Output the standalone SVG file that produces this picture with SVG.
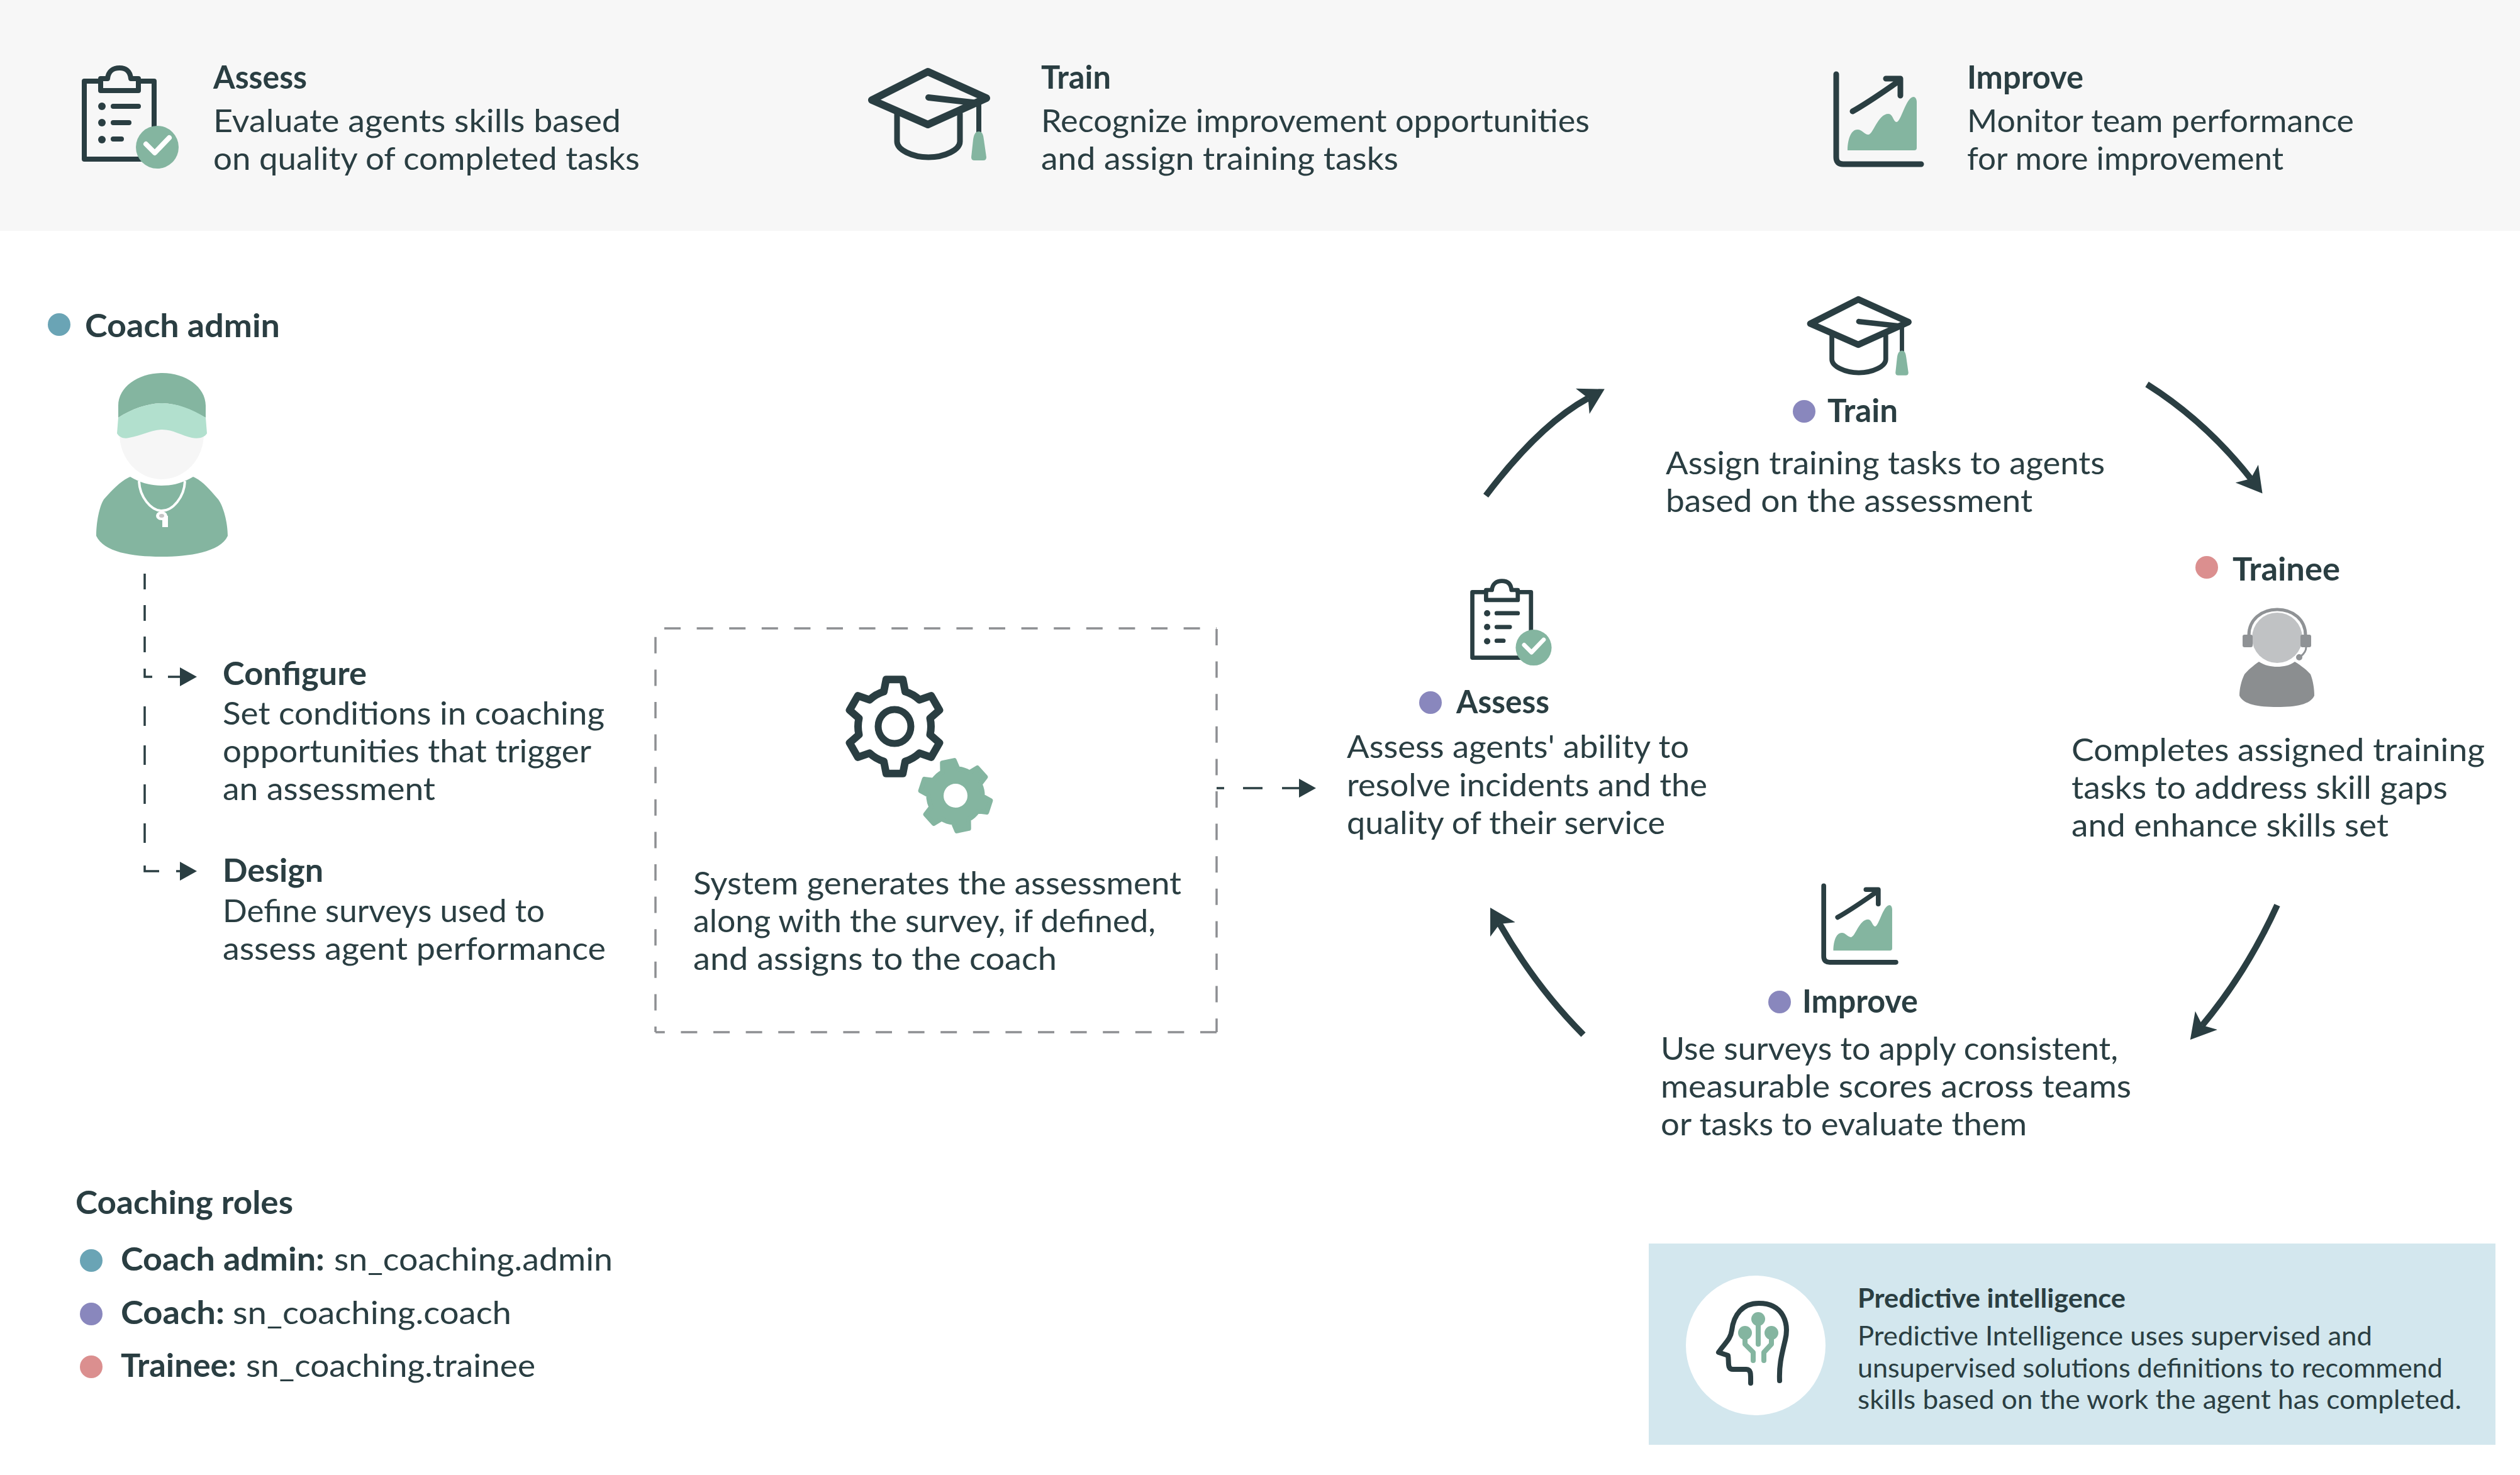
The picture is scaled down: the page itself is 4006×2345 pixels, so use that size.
<svg xmlns="http://www.w3.org/2000/svg" xmlns:xlink="http://www.w3.org/1999/xlink" width="4006" height="2345" viewBox="0 0 4006 2345">
<style>
text{font-family:"Lato","Liberation Sans",sans-serif;fill:#2a3e42;font-size:51px}
.b{font-weight:700}
.s{font-size:42px}
.ink{fill:none;stroke:#2a3e42;stroke-linecap:round;stroke-linejoin:round}
.green{fill:#84b5a0}
.dk{fill:#2a3e42}
.teal{fill:#6aa4b5}
.purple{fill:#8987bd}
.pink{fill:#db8f8f}
.curve{fill:none;stroke:#2a3e42;stroke-width:10;marker-end:url(#big)}
.dash{fill:none;stroke:#2a3e42;stroke-width:3.5}
.box{fill:none;stroke:#8d8f92;stroke-width:3.5;stroke-dasharray:26 25.6}
</style>
<defs>
<marker id="big" markerUnits="userSpaceOnUse" markerWidth="40" markerHeight="46" viewBox="0 0 40 46" refX="10" refY="23" orient="auto"><path d="M0,0L40,23L0,46L10,23Z" fill="#2a3e42"/></marker>
<marker id="tri" markerUnits="userSpaceOnUse" markerWidth="27" markerHeight="30" viewBox="0 0 27 30" refX="0" refY="15" orient="auto"><path d="M0,0L27,15L0,30Z" fill="#2a3e42"/></marker>
<g id="clip-ic">
<path class="ink" stroke-width="8" d="M160,129H134V253H245V129H220"/>
<path class="ink" stroke-width="8" d="M160,144H220V125H208C207,113 200,108 190,108C180,108 172,113 171,125H160Z"/>
<circle class="dk" cx="162" cy="169" r="6"/><circle class="dk" cx="162" cy="195" r="6"/><circle class="dk" cx="162" cy="222" r="6"/>
<path class="ink" stroke-width="8" d="M180,169H220M180,195H205M180,221H193"/>
<circle class="green" cx="250" cy="234" r="34"/>
<path fill="none" stroke="#fff" stroke-width="8" stroke-linecap="round" stroke-linejoin="round" d="M232,229L246,243L269,219"/>
</g>
<g id="cap-ic">
<path class="ink" stroke-width="9" d="M1426,181V225C1426,238 1450,250 1476,250C1502,250 1526,238 1526,225V181"/>
<path class="ink" stroke-width="12" d="M1475,114L1568,156L1475,198L1386,159Z"/>
<path class="ink" stroke-width="10" d="M1476,155L1555,164"/>
<path class="ink" stroke-width="8" d="M1556,164V212"/>
<path class="green" d="M1556,209C1562,209 1563,215 1564,222L1568,250Q1568,255 1563,255L1549,255Q1544,255 1544,250L1547,222C1548,215 1550,209 1556,209Z"/>
</g>
<g id="chart-ic">
<path class="ink" stroke-width="9" d="M2919,118V250Q2919,261 2930,261H3054"/>
<path class="ink" stroke-width="9" d="M2945,177C2975,160 3005,138 3020,128M2998,125H3021V152"/>
<path class="green" d="M2937,239C2937,225 2941,206 2953,206C2960,206 2964,214 2970,214C2978,214 2985,181 3002,181C3009,181 3010,194 3015,194C3022,194 3030,154 3042,154C3045,154 3047,158 3047,162V235Q3047,239 3043,239Z"/>
</g>
<path id="gear" d="M-17,-55.5L-13.2,-74.8L13.2,-74.8L17,-55.5A58,58 0 0 1 39.6,-42.4L58.2,-48.9L71.4,-26L56.5,-13A58,58 0 0 1 56.5,13L71.4,26L58.2,48.9L39.6,42.4A58,58 0 0 1 17,55.5L13.2,74.8L-13.2,74.8L-17,55.5A58,58 0 0 1 -39.6,42.4L-58.2,48.9L-71.4,26L-56.5,13A58,58 0 0 1 -56.5,-13L-71.4,-26L-58.2,-48.9L-39.6,-42.4A58,58 0 0 1 -17,-55.5Z"/>
</defs>
<rect width="4006" height="2345" fill="#fff"/>
<rect id="band" width="4006" height="367" fill="#f7f7f7"/>

<g id="header-assess">
<use href="#clip-ic"/>
<text class="b" x="339" y="141" textLength="149" lengthAdjust="spacingAndGlyphs">Assess</text>
<text x="339" y="210" textLength="648" lengthAdjust="spacingAndGlyphs">Evaluate agents skills based</text>
<text x="339" y="270" textLength="678" lengthAdjust="spacingAndGlyphs">on quality of completed tasks</text>
</g>
<g id="header-train">
<use href="#cap-ic"/>
<text class="b" x="1655" y="141" textLength="111" lengthAdjust="spacingAndGlyphs">Train</text>
<text x="1655" y="210" textLength="872" lengthAdjust="spacingAndGlyphs">Recognize improvement opportunities</text>
<text x="1655" y="270" textLength="568" lengthAdjust="spacingAndGlyphs">and assign training tasks</text>
</g>
<g id="header-improve">
<use href="#chart-ic"/>
<text class="b" x="3127" y="141" textLength="185" lengthAdjust="spacingAndGlyphs">Improve</text>
<text x="3127" y="210" textLength="615" lengthAdjust="spacingAndGlyphs">Monitor team performance</text>
<text x="3127" y="270" textLength="503" lengthAdjust="spacingAndGlyphs">for more improvement</text>
</g>

<g id="coach-admin">
<circle class="teal" cx="94" cy="516" r="18"/>
<text class="b" x="135" y="536" textLength="310" lengthAdjust="spacingAndGlyphs">Coach admin</text>
<ellipse cx="257" cy="690" rx="67" ry="72" fill="#f6f6f6"/>
<path class="green" d="M188,664V645C188,615 220,593 258,593C295,593 327,615 327,645V664C300,650 280,641 258,641C235,641 210,650 188,664Z"/>
<path fill="#b2e0ce" d="M188,664C210,650 235,641 258,641C280,641 305,650 327,664L329,689C325,696 315,698 305,696C290,693 275,683 258,683C240,683 225,693 205,696C198,698 190,696 186,689Z"/>
<path class="green" d="M207,758C224,768 240,772 257,772C275,772 290,768 307,758C324,765 337,783 347,794C355,805 362,830 362,852C350,878 300,885 257,885C210,885 165,878 153,852C153,830 158,805 165,794C175,783 190,765 207,758Z"/>
<path fill="none" stroke="#fff" stroke-width="4" d="M221,765C222,790 240,812 257,812C275,812 293,790 294,765"/>
<ellipse cx="257" cy="820" rx="9" ry="7" fill="#fff"/><rect x="258" y="820" width="9" height="18" fill="#fff"/>
<ellipse cx="257" cy="820" rx="4" ry="3" fill="#c5c5c5"/>
</g>

<g id="configure">
<text class="b" x="354" y="1089" textLength="229" lengthAdjust="spacingAndGlyphs">Configure</text>
<text x="354" y="1152" textLength="607" lengthAdjust="spacingAndGlyphs">Set conditions in coaching</text>
<text x="354" y="1212" textLength="586" lengthAdjust="spacingAndGlyphs">opportunities that trigger</text>
<text x="354" y="1272" textLength="338" lengthAdjust="spacingAndGlyphs">an assessment</text>
</g>
<g id="design">
<text class="b" x="354" y="1402" textLength="160" lengthAdjust="spacingAndGlyphs">Design</text>
<text x="354" y="1466" textLength="512" lengthAdjust="spacingAndGlyphs">Define surveys used to</text>
<text x="354" y="1526" textLength="609" lengthAdjust="spacingAndGlyphs">assess agent performance</text>
</g>

<g id="system">
<path class="box" d="M1056,999H1934"/>
<path class="box" d="M1934,1000V1641"/>
<path class="box" d="M1934,1641H1042"/>
<path class="box" stroke-dashoffset="17" d="M1042,1641V999"/>
<use href="#gear" transform="translate(1422,1155)" fill="none" stroke="#2a3e42" stroke-width="12" stroke-linejoin="round"/>
<ellipse cx="1422" cy="1155" rx="26" ry="27" fill="none" stroke="#2a3e42" stroke-width="11"/>
<use href="#gear" transform="translate(1519,1265) rotate(-12) scale(.74)" fill="#84b5a0" stroke="#84b5a0" stroke-width="10" stroke-linejoin="round"/>
<circle cx="1519" cy="1265" r="19" fill="#fff"/>
<text x="1102" y="1422" textLength="776" lengthAdjust="spacingAndGlyphs">System generates the assessment</text>
<text x="1102" y="1482" textLength="735" lengthAdjust="spacingAndGlyphs">along with the survey, if defined,</text>
<text x="1102" y="1542" textLength="578" lengthAdjust="spacingAndGlyphs">and assigns to the coach</text>
</g>

<g id="assess">
<use href="#clip-ic" transform="translate(2228,833) scale(.84)"/>
<circle class="purple" cx="2274" cy="1117" r="18"/>
<text class="b" x="2315" y="1134" textLength="148" lengthAdjust="spacingAndGlyphs">Assess</text>
<text x="2141" y="1205" textLength="544" lengthAdjust="spacingAndGlyphs">Assess agents' ability to</text>
<text x="2141" y="1266" textLength="573" lengthAdjust="spacingAndGlyphs">resolve incidents and the</text>
<text x="2141" y="1326" textLength="506" lengthAdjust="spacingAndGlyphs">quality of their service</text>
</g>
<g id="train">
<use href="#cap-ic" transform="translate(1690,378.3) scale(.857)"/>
<circle class="purple" cx="2868" cy="654" r="18"/>
<text class="b" x="2905" y="671" textLength="112" lengthAdjust="spacingAndGlyphs">Train</text>
<text x="2648" y="754" textLength="698" lengthAdjust="spacingAndGlyphs">Assign training tasks to agents</text>
<text x="2648" y="814" textLength="583" lengthAdjust="spacingAndGlyphs">based on the assessment</text>
</g>
<g id="trainee">
<circle class="pink" cx="3508" cy="902" r="18"/>
<text class="b" x="3549" y="923" textLength="171" lengthAdjust="spacingAndGlyphs">Trainee</text>
<ellipse cx="3620" cy="1014" rx="40" ry="40" fill="#c0c2c4"/>
<path fill="none" stroke="#8f9295" stroke-width="5" d="M3575,1010C3575,985 3595,969 3620,969C3645,969 3665,985 3665,1010"/>
<rect x="3565" y="1009" width="16" height="20" rx="3" fill="#8f9295"/>
<rect x="3657" y="1009" width="17" height="20" rx="3" fill="#8f9295"/>
<path fill="none" stroke="#8f9295" stroke-width="3" d="M3666,1029C3666,1035 3662,1040 3657,1044"/>
<circle cx="3655" cy="1045" r="5" fill="#8f9295"/>
<path fill="#8b8e90" d="M3591,1052C3600,1058 3610,1060 3620,1060C3630,1060 3640,1058 3648,1052C3658,1058 3668,1066 3673,1072C3677,1082 3679,1095 3679,1106C3673,1120 3650,1124 3620,1124C3590,1124 3566,1120 3560,1106C3560,1095 3563,1082 3568,1072C3573,1066 3582,1058 3591,1052Z"/>
<text x="3293" y="1210" textLength="657" lengthAdjust="spacingAndGlyphs">Completes assigned training</text>
<text x="3293" y="1270" textLength="598" lengthAdjust="spacingAndGlyphs">tasks to address skill gaps</text>
<text x="3293" y="1330" textLength="504" lengthAdjust="spacingAndGlyphs">and enhance skills set</text>
</g>
<g id="improve">
<use href="#chart-ic" transform="translate(418,1308) scale(.85)"/>
<circle class="purple" cx="2829" cy="1593" r="18"/>
<text class="b" x="2865" y="1610" textLength="184" lengthAdjust="spacingAndGlyphs">Improve</text>
<text x="2640" y="1685" textLength="727" lengthAdjust="spacingAndGlyphs">Use surveys to apply consistent,</text>
<text x="2640" y="1745" textLength="748" lengthAdjust="spacingAndGlyphs">measurable scores across teams</text>
<text x="2640" y="1805" textLength="582" lengthAdjust="spacingAndGlyphs">or tasks to evaluate them</text>
</g>

<g id="roles">
<text class="b" x="120" y="1930" textLength="346" lengthAdjust="spacingAndGlyphs">Coaching roles</text>
<circle class="teal" cx="145" cy="2004" r="18"/>
<text class="b" x="192" y="2020" textLength="324" lengthAdjust="spacingAndGlyphs">Coach admin:</text>
<text x="531" y="2020" textLength="443" lengthAdjust="spacingAndGlyphs">sn_coaching.admin</text>
<circle class="purple" cx="145" cy="2089" r="18"/>
<text class="b" x="192" y="2105" textLength="165" lengthAdjust="spacingAndGlyphs">Coach:</text>
<text x="370" y="2105" textLength="443" lengthAdjust="spacingAndGlyphs">sn_coaching.coach</text>
<circle class="pink" cx="145" cy="2173" r="18"/>
<text class="b" x="192" y="2189" textLength="184" lengthAdjust="spacingAndGlyphs">Trainee:</text>
<text x="391" y="2189" textLength="460" lengthAdjust="spacingAndGlyphs">sn_coaching.trainee</text>
</g>

<g id="predictive">
<rect x="2621" y="1977" width="1346" height="320" fill="#d3e7ee"/>
<circle cx="2791" cy="2139" r="111" fill="#fff"/>
<path class="ink" stroke-width="8" d="M2829,2195C2828,2170 2832,2155 2838,2130C2844,2105 2836,2072 2796,2072C2770,2072 2756,2090 2753,2115C2751,2130 2742,2135 2732,2150L2747,2155C2749,2165 2745,2177 2755,2177H2776C2784,2177 2783,2185 2783,2199"/>
<path fill="none" stroke="#84b5a0" stroke-width="8" stroke-linecap="round" stroke-linejoin="round" d="M2795,2097V2137M2774,2119V2137L2787,2150V2163M2816,2119V2137L2804,2150V2163"/>
<circle class="green" cx="2795" cy="2097" r="11"/><circle class="green" cx="2774" cy="2119" r="11"/><circle class="green" cx="2816" cy="2119" r="11"/>
<text class="b s" x="2953" y="2079" textLength="426" lengthAdjust="spacingAndGlyphs">Predictive intelligence</text>
<text class="s" x="2953" y="2139" textLength="818" lengthAdjust="spacingAndGlyphs">Predictive Intelligence uses supervised and</text>
<text class="s" x="2953" y="2190" textLength="930" lengthAdjust="spacingAndGlyphs">unsupervised solutions definitions to recommend</text>
<text class="s" x="2953" y="2240" textLength="960" lengthAdjust="spacingAndGlyphs">skills based on the work the agent has completed.</text>
</g>

<g id="connectors">
<path class="dash" stroke-dasharray="25 25" d="M230,912V1062"/>
<path class="dash" d="M230,1063V1076H242"/>
<path class="dash" marker-end="url(#tri)" d="M267,1076H286"/>
<path class="dash" stroke-dasharray="31 31" d="M230,1123V1343"/>
<path class="dash" d="M230,1376V1385H253"/>
<path class="dash" marker-end="url(#tri)" d="M280,1385H286"/>
<path class="dash" stroke-dasharray="12 30 31 31 27" d="M1934,1253H2065" marker-end="url(#tri)"/>
<path class="curve" d="M2362,788Q2446.8,675.5 2524.5,633"/>
<path class="curve" d="M3413,611Q3506.5,670 3578,761"/>
<path class="curve" d="M3620,1439Q3571.5,1545.5 3501,1630"/>
<path class="curve" d="M2517,1645Q2441.5,1569 2384,1469"/>
</g>
</svg>
